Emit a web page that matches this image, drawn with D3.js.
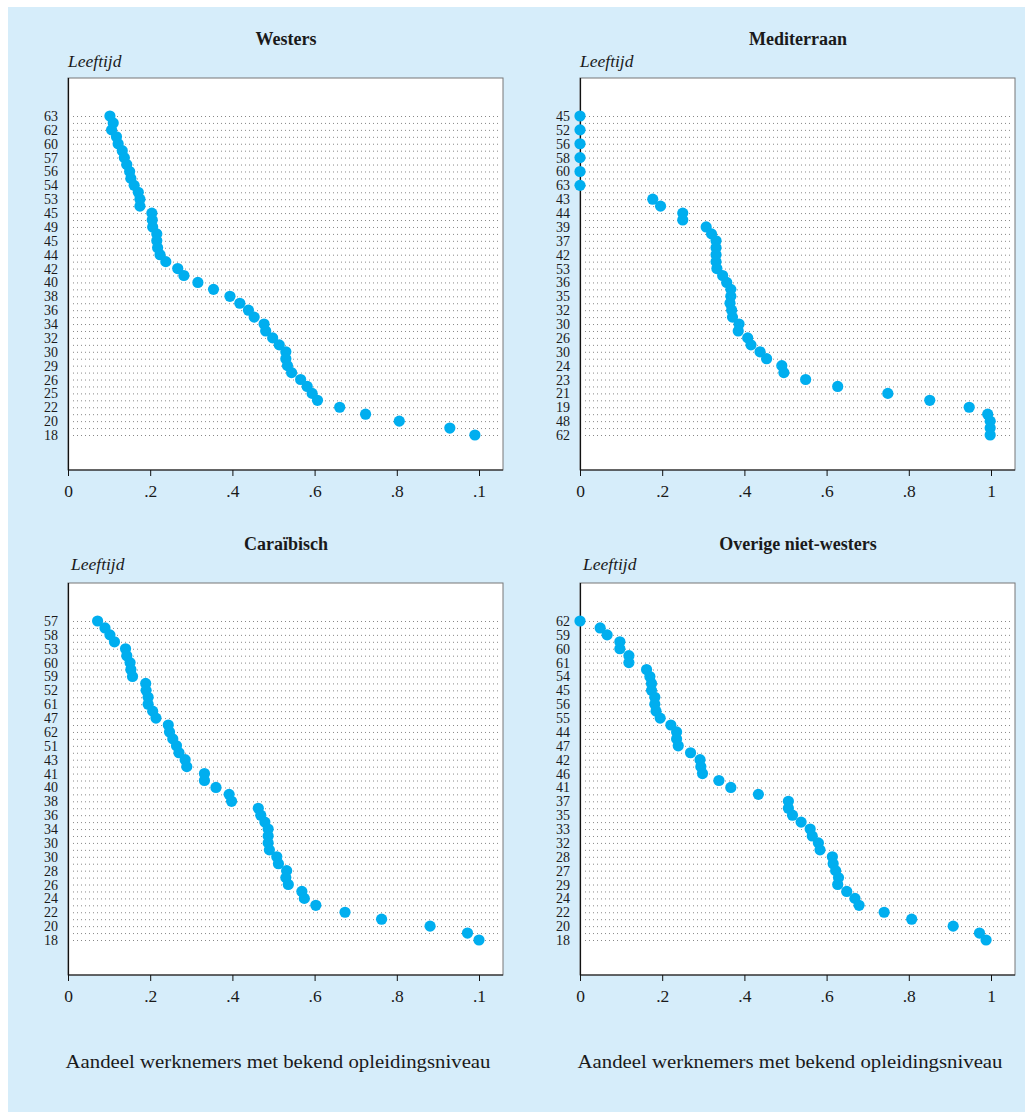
<!DOCTYPE html>
<html lang="nl">
<head>
  <meta charset="UTF-8">
  <title>Aandeel werknemers met bekend opleidingsniveau naar leeftijd</title>
  <script src="https://d3js.org/d3.v7.min.js"></script>
  <style>
    body { margin: 0; background: #fff; }
    svg { display: block; font-family: "Liberation Serif", "DejaVu Serif", serif; }
    .tick text { fill: #1a1a1a; }
  </style>
</head>
<body>
  <svg width="1025" height="1112"></svg>

  <script>
    // labels are shown on every other row, values for every row (sorted per panel)
    const westersLabels = ["63","62","60","57","56","54","53","45","49","45","44","42",
                           "40","38","36","34","32","30","29","26","25","22","20","18"];
    const westersValues = [0.102,0.110,0.106,0.118,0.122,0.132,0.137,0.143,0.150,0.153,
                           0.161,0.171,0.175,0.175,0.204,0.205,0.206,0.216,0.216,0.218,
                           0.224,0.238,0.267,0.282,0.316,0.354,0.394,0.418,0.439,0.453,
                           0.477,0.481,0.498,0.514,0.530,0.530,0.534,0.544,0.566,0.582,
                           0.594,0.607,0.661,0.724,0.806,0.929,0.990];

    const medLabels = ["45","52","56","58","60","63","43","44","39","37","42","53",
                       "36","35","32","30","26","30","24","23","21","19","48","62"];
    const medValues = [0,null,0,null,0,null,0,null,0,null,0,null,
                       0.177,0.196,0.250,0.250,0.307,0.320,0.331,0.331,0.331,0.331,
                       0.333,0.347,0.357,0.367,0.367,0.365,0.369,0.371,0.387,0.385,
                       0.408,0.416,0.438,0.454,0.491,0.496,0.549,0.627,0.749,0.851,
                       0.947,0.992,0.998,0.998,0.998];

    const caribLabels = ["57","58","53","60","59","52","61","47","62","51","43","41",
                         "40","38","36","34","30","30","28","26","24","22","20","18"];
    const caribValues = [0.072,0.090,0.102,0.113,0.140,0.143,0.151,0.153,0.157,0.189,
                         0.190,0.195,0.195,0.206,0.214,0.244,0.247,0.255,0.264,0.270,
                         0.285,0.289,0.332,0.332,0.360,0.392,0.398,0.463,0.469,0.479,
                         0.487,0.487,0.487,0.490,0.508,0.512,0.532,0.530,0.536,0.569,
                         0.575,0.603,0.674,0.763,0.881,0.972,1.000];

    const otherLabels = ["62","59","60","61","54","45","56","55","44","47","42","46",
                         "41","37","35","33","32","28","27","29","24","22","20","18"];
    const otherValues = [0.000,0.049,0.066,0.097,0.097,0.119,0.119,0.162,0.170,0.174,
                         0.174,0.182,0.182,0.185,0.195,0.221,0.235,0.235,0.239,0.269,
                         0.292,0.294,0.298,0.338,0.367,0.434,0.507,0.507,0.517,0.538,
                         0.560,0.565,0.580,0.584,0.614,0.616,0.622,0.629,0.627,0.649,
                         0.669,0.679,0.740,0.807,0.908,0.972,0.988];

    const xTicks = [0, 0.2, 0.4, 0.6, 0.8, 1];
    const xTickLabelsLeft = ["0", ".2", ".4", ".6", ".8", ".1"];
    const xTickLabelsRight = ["0", ".2", ".4", ".6", ".8", "1"];

    const svg = d3.select("svg");

    // background
    svg.append("rect").attr("x", 8).attr("y", 7).attr("width", 1017).attr("height", 1105)
      .attr("fill", "#d6edfa");

    const boxW = 435, boxH = 392;

    const panels = [
      {title: "Westers", labels: westersLabels, values: westersValues, ticks: xTickLabelsLeft, left: 68, top: 78, xtitle: false},
      {title: "Mediterraan", labels: medLabels, values: medValues, ticks: xTickLabelsRight, left: 580, top: 78, xtitle: false},
      {title: "Caraïbisch", labels: caribLabels, values: caribValues, ticks: xTickLabelsLeft, left: 68, top: 583, xtitle: true},
      {title: "Overige niet-westers", labels: otherLabels, values: otherValues, ticks: xTickLabelsRight, left: 580, top: 583, xtitle: true}
    ];

    panels.forEach(p => {
      const g = svg.append("g").attr("transform", `translate(${p.left},${p.top})`);

      const x = d3.scaleLinear().domain([0, 1]).range([0, 411]);
      const y = d3.scalePoint().domain(d3.range(p.values.length)).range([38, 357]);

      g.append("rect")
        .attr("width", boxW).attr("height", boxH)
        .attr("fill", "#fff").attr("stroke", "#777").attr("stroke-width", 1);

      // dotted row lines
      g.append("g").selectAll("line")
        .data(d3.range(p.values.length))
        .join("line")
          .attr("x1", 5).attr("x2", boxW - 3)
          .attr("y1", d => y(d) + 0.5).attr("y2", d => y(d) + 0.5)
          .attr("stroke", "#888").attr("stroke-width", 1)
          .attr("stroke-dasharray", "1,3");

      // axis lines
      g.append("line").attr("x1", 0.5).attr("x2", 0.5).attr("y1", 0).attr("y2", boxH)
        .attr("stroke", "#111").attr("stroke-width", 1.2);
      g.append("line").attr("x1", 0).attr("x2", boxW).attr("y1", boxH).attr("y2", boxH)
        .attr("stroke", "#111").attr("stroke-width", 1.2);

      const yAxis = g.append("g")
        .call(d3.axisLeft(y)
          .tickValues(d3.range(0, p.values.length, 2))
          .tickFormat(i => p.labels[i / 2])
          .tickSize(0).tickPadding(10));
      yAxis.select(".domain").remove();
      yAxis.selectAll("text").attr("font-size", 14).attr("font-family", "Liberation Serif");

      const xAxis = g.append("g")
        .attr("transform", `translate(0,${boxH})`)
        .call(d3.axisBottom(x)
          .tickValues(xTicks)
          .tickFormat((d, i) => p.ticks[i])
          .tickSize(6).tickPadding(9));
      xAxis.select(".domain").remove();
      xAxis.selectAll("text").attr("font-size", 17.5).attr("font-family", "Liberation Serif");
      xAxis.selectAll("line").attr("stroke", "#111");

      // dots
      g.append("g").selectAll("circle")
        .data(p.values.map((v, i) => ({i, v})).filter(d => d.v !== null))
        .join("circle")
          .attr("cx", d => x(d.v))
          .attr("cy", d => y(d.i))
          .attr("r", 5.6)
          .attr("fill", "#00aeef");

      g.append("text")
        .attr("x", 218).attr("y", -33)
        .attr("text-anchor", "middle")
        .attr("font-size", 18).attr("font-weight", "bold")
        .attr("fill", "#1a1a1a")
        .text(p.title);

      g.append("text")
        .attr("x", p.xtitle ? 3 : 0).attr("y", p.xtitle ? -13 : -11)
        .attr("font-size", 17.5).attr("font-style", "italic")
        .attr("fill", "#1a1a1a")
        .text("Leeftijd");

      if (p.xtitle) {
        g.append("text")
          .attr("x", 210).attr("y", 485)
          .attr("text-anchor", "middle")
          .attr("font-size", 18)
          .attr("textLength", 425)
          .attr("lengthAdjust", "spacingAndGlyphs")
          .attr("fill", "#1a1a1a")
          .text("Aandeel werknemers met bekend opleidingsniveau");
      }
    });
  </script>
</body>
</html>
